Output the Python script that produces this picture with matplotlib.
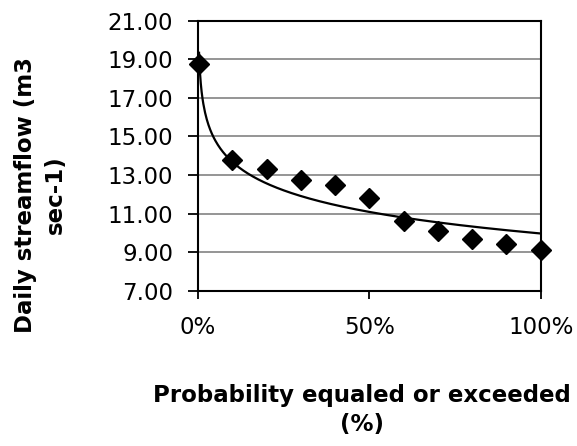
import matplotlib
matplotlib.use("Agg")
import matplotlib.pyplot as plt
import numpy as np
from matplotlib.ticker import FuncFormatter

# probability equaled or exceeded (fraction) and daily streamflow (m3/s)
prob = [0.003, 0.1, 0.2, 0.3, 0.4, 0.5, 0.6, 0.7, 0.8, 0.9, 1.0]
flow = [18.75, 13.78, 13.31, 12.74, 12.48, 11.79, 10.62, 10.11, 9.67, 9.42, 9.11]

y_ticks = [7, 9, 11, 13, 15, 17, 19, 21]
x_ticks = [0.0, 0.5, 1.0]

plt.rcParams["font.family"] = ["DejaVu Sans"]

fig = plt.figure(figsize=(5.77, 4.46), dpi=100)
ax = fig.add_axes([0.3432, 0.3482, 0.5939, 0.6054])

# logarithmic trend line (like the spreadsheet trendline)
b, a = np.polyfit(np.log(prob), flow, 1)
xs = np.linspace(prob[0], prob[-1], 400)
ax.plot(xs, a + b * np.log(xs), color="black", linewidth=1.6, zorder=3)

ax.plot(prob, flow, linestyle="none", marker="D", markersize=10.5,
        color="black", zorder=4, clip_on=False)

ax.set_xlim(0, 1)
ax.set_ylim(7, 21)
ax.set_yticks(y_ticks)
ax.set_xticks(x_ticks)
ax.yaxis.set_major_formatter(FuncFormatter(lambda v, _: f"{v:.2f}"))
ax.xaxis.set_major_formatter(FuncFormatter(lambda v, _: f"{v * 100:.0f}%"))

ax.grid(axis="y", color="#8c8c8c", linewidth=1.3, zorder=0)
ax.set_axisbelow(True)
for sp in ax.spines.values():
    sp.set_linewidth(1.5)
    sp.set_color("black")

ax.tick_params(axis="y", direction="out", length=7, width=1.3, pad=11, labelsize=16.5)
ax.tick_params(axis="x", direction="out", length=6, width=1.3, pad=12, labelsize=16.5)

fig.text(0.070, 1 - 195 / 446, "Daily streamflow (m3\nsec-1)", rotation=90,
         ha="center", va="center", fontsize=16.5, fontweight="bold",
         multialignment="center", linespacing=1.4)
fig.text(362 / 577, 1 - 410 / 446, "Probability equaled or exceeded\n(%)",
         ha="center", va="center", fontsize=16.5, fontweight="bold",
         multialignment="center", linespacing=1.35)

fig.savefig("out.png", dpi=100)
